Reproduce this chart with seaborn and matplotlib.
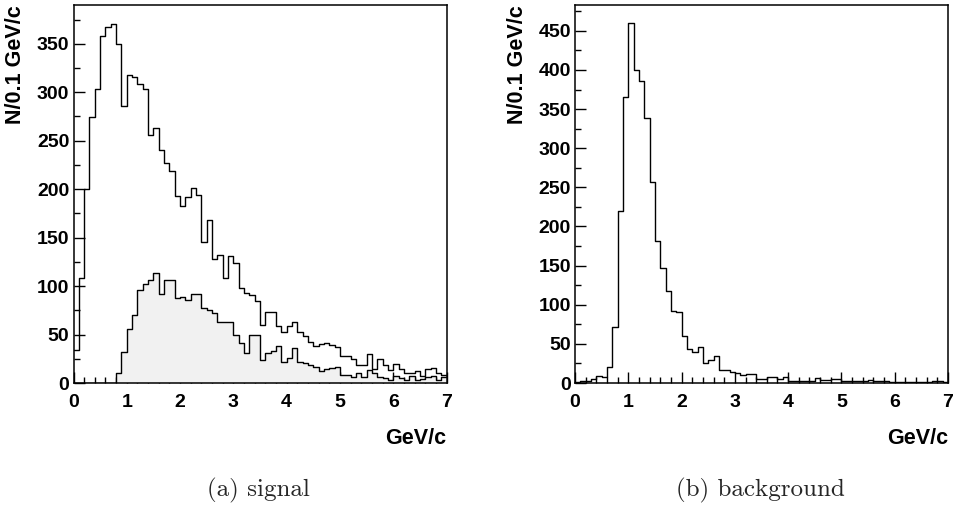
import numpy as np
import pandas as pd
import matplotlib
matplotlib.use("Agg")
import matplotlib.pyplot as plt
from matplotlib.ticker import MultipleLocator
import seaborn as sns

sns.set_theme(style="ticks")
plt.rcParams['font.family'] = ['Liberation Sans', 'DejaVu Sans']

# 0.1 GeV/c bins from 0 to 7
bin_edges = [round(0.1 * i, 2) for i in range(71)]
bin_centers = [e + 0.05 for e in bin_edges[:-1]]

# signal: all candidates (open histogram)
signal_all = [34, 108, 200, 274, 303, 358, 367, 370, 350, 286,
              318, 316, 308, 303, 256, 263, 240, 227, 219, 193,
              183, 192, 201, 194, 145, 168, 128, 132, 108, 131,
              124, 98, 93, 91, 85, 60, 73, 73, 59, 53,
              59, 63, 53, 48, 42, 38, 40, 41, 39, 37,
              28, 28, 25, 19, 19, 30, 14, 25, 19, 13,
              20, 14, 10, 10, 12, 7, 14, 15, 10, 8]

# signal: selected (shaded histogram)
signal_sel = [0, 0, 0, 0, 0, 0, 0, 0, 10, 32,
              56, 70, 96, 102, 106, 114, 92, 106, 106, 88,
              89, 86, 92, 92, 77, 75, 72, 63, 63, 63,
              50, 41, 31, 50, 50, 24, 31, 33, 38, 22,
              26, 36, 22, 21, 19, 17, 12, 14, 15, 17,
              8, 8, 6, 10, 6, 13, 10, 6, 5, 3,
              7, 5, 3, 7, 3, 4, 6, 7, 3, 6]

# background
background = [1, 2, 3, 5, 9, 8, 21, 71, 220, 366,
              460, 400, 386, 339, 257, 182, 147, 117, 92, 91,
              60, 44, 39, 46, 25, 29, 35, 17, 17, 14,
              13, 10, 11, 11, 5, 5, 8, 8, 5, 8,
              2, 2, 2, 2, 2, 6, 4, 4, 5, 5,
              2, 2, 2, 2, 3, 4, 2, 2, 2, 1,
              1, 1, 1, 1, 1, 1, 1, 2, 2, 1]

fig = plt.figure(figsize=(9.55, 5.22), dpi=100)
ax1 = fig.add_axes([73.5 / 955, 1 - 383 / 522, 373 / 955, 378 / 522])
ax2 = fig.add_axes([575 / 955, 1 - 383 / 522, 373 / 955, 378 / 522])


def step_hist(ax, values, fill=None):
    """Draw one ROOT-like step histogram"""
    df = pd.DataFrame({'p': bin_centers, 'n': values})
    if fill is not None:
        sns.histplot(data=df, x='p', weights='n', bins=bin_edges, element='step',
                     fill=True, color=fill, alpha=1, linewidth=0, ax=ax)
    sns.histplot(data=df, x='p', weights='n', bins=bin_edges, element='step',
                 fill=False, color='black', linewidth=1.0, ax=ax)


step_hist(ax1, signal_all)
step_hist(ax1, signal_sel, fill='#f1f1f1')
step_hist(ax2, background)

for ax, ymax in [(ax1, 390), (ax2, 483)]:
    ax.set_xlim(0, 7)
    ax.set_ylim(0, ymax)
    ax.xaxis.set_major_locator(MultipleLocator(1))
    ax.xaxis.set_minor_locator(MultipleLocator(0.2))
    ax.yaxis.set_major_locator(MultipleLocator(50))
    ax.yaxis.set_minor_locator(MultipleLocator(25))
    ax.tick_params(which='both', direction='in', color='black', width=1,
                   labelsize=14, labelcolor='black', top=False, right=False)
    ax.tick_params(which='major', length=8)
    ax.tick_params(which='minor', length=4)
    ax.tick_params(axis='x', pad=8)
    ax.tick_params(axis='y', pad=3)
    for lab in ax.get_xticklabels() + ax.get_yticklabels():
        lab.set_fontweight('bold')
    for sp in ax.spines.values():
        sp.set_visible(True)
        sp.set_color('black')
        sp.set_linewidth(1.1)
    ax.set_ylabel('N/0.1 GeV/c', loc='top', fontsize=15.5, fontweight='bold',
                  color='black')
    ax.yaxis.set_label_coords(-0.127, 1.0)
    ax.set_xlabel('GeV/c', loc='right', fontsize=15.5, fontweight='bold',
                  color='black')
    ax.xaxis.set_label_coords(1.0, -0.12)

fig.text(258 / 955, 1 - 490 / 522, '(a) signal', family='cmr10', fontsize=18,
         ha='center', va='center')
fig.text(760 / 955, 1 - 490 / 522, '(b) background', family='cmr10', fontsize=18,
         ha='center', va='center')

fig.savefig('out.png', dpi=100)
